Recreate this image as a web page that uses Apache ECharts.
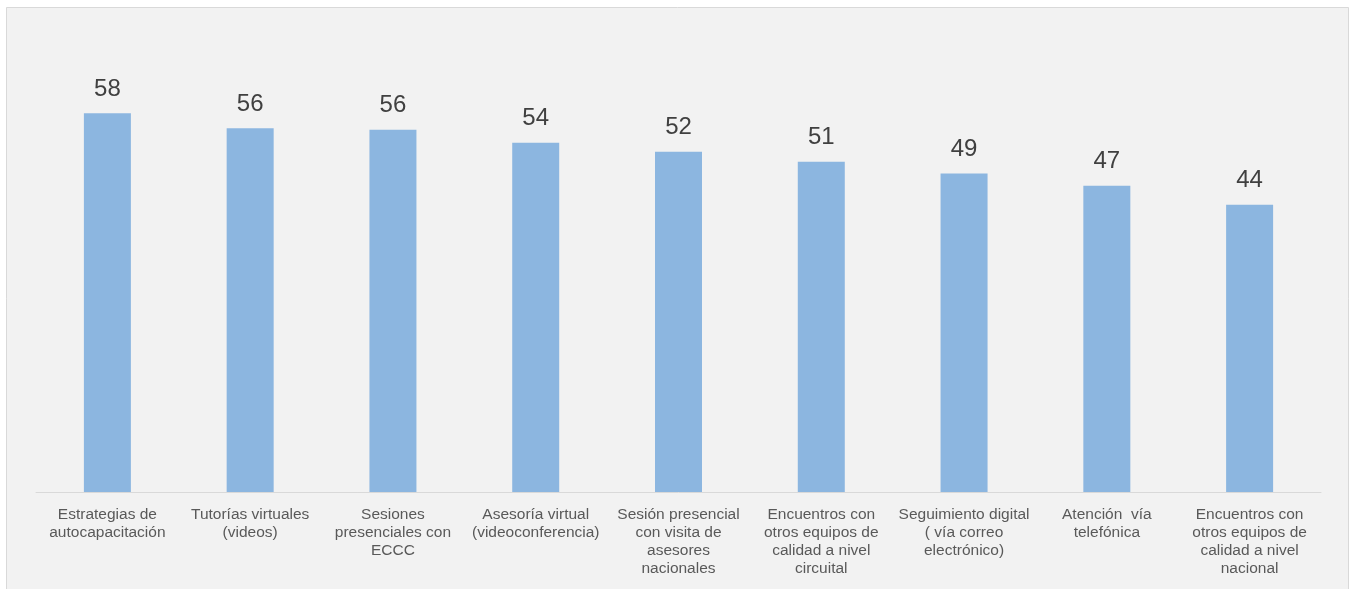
<!DOCTYPE html>
<html>
<head>
<meta charset="utf-8">
<script src="https://cdn.jsdelivr.net/npm/echarts@6/dist/echarts.min.js"></script>
<style>
html,body{margin:0;padding:0;background:#ffffff;}
#chart{width:1351px;height:589px;}
</style>
</head>
<body>
<div id="chart"></div>
<script>
const categories = [
  "Estrategias de\nautocapacitación",
  "Tutorías virtuales\n(videos)",
  "Sesiones\npresenciales con\nECCC",
  "Asesoría virtual\n(videoconferencia)",
  "Sesión presencial\ncon visita de\nasesores\nnacionales",
  "Encuentros con\notros equipos de\ncalidad a nivel\ncircuital",
  "Seguimiento digital\n( vía correo\nelectrónico)",
  "Atención  vía\ntelefónica",
  "Encuentros con\notros equipos de\ncalidad a nivel\nnacional"
];
const values = [58, 55.7, 55.5, 53.5, 52.1, 50.6, 48.8, 46.9, 44];

const chart = echarts.init(document.getElementById('chart'));
chart.setOption({
  backgroundColor: '#ffffff',
  animation: false,
  graphic: [{
    type: 'rect',
    z: -10,
    shape: {x: 6.5, y: 7.5, width: 1342, height: 620},
    style: {fill: '#f2f2f2', stroke: '#d9d9d9', lineWidth: 1}
  }],
  grid: {left: 36, right: 30, top: 35, bottom: 97},
  xAxis: {
    type: 'category',
    data: categories,
    axisLine: {lineStyle: {color: '#d9d9d9', width: 1}},
    axisTick: {show: false},
    axisLabel: {
      interval: 0,
      color: '#595959',
      fontFamily: 'Liberation Sans, Arial, sans-serif',
      fontSize: 15.5,
      lineHeight: 18,
      margin: 14
    }
  },
  yAxis: {
    type: 'value',
    min: 0,
    max: 70,
    show: false,
    splitLine: {show: false}
  },
  series: [{
    type: 'bar',
    data: values,
    barWidth: 47,
    itemStyle: {color: '#8cb6e0'},
    label: {
      show: true,
      position: 'top',
      distance: 12,
      color: '#404040',
      fontFamily: 'Liberation Sans, Arial, sans-serif',
      fontSize: 24,
      formatter: p => Math.round(p.value)
    }
  }]
});
</script>
</body>
</html>
